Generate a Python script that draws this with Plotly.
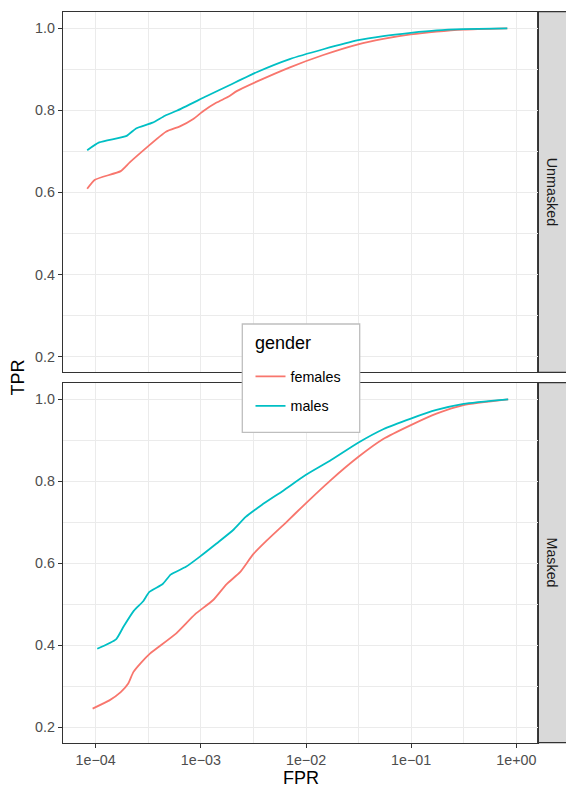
import plotly.graph_objects as go

# ---------------- data ----------------
unmasked_females_fpr = [8.3e-5, 9.84e-5, 1.73e-4, 2.12e-4, 4.66e-4, 6.32e-4, 8.47e-4, 1.05e-3,
                        1.41e-3, 1.82e-3, 2.19e-3, 3.39e-3, 7.03e-3, 1.46e-2, 3.13e-2, 5.42e-2,
                        9.9e-2, 0.174, 0.315, 0.82]
unmasked_females_tpr = [0.609, 0.631, 0.652, 0.674, 0.748, 0.761, 0.779, 0.798, 0.819, 0.833,
                        0.847, 0.870, 0.905, 0.935, 0.961, 0.974, 0.985, 0.992, 0.997, 1.0]

unmasked_males_fpr = [8.3e-5, 1.08e-4, 1.97e-4, 2.42e-4, 3.48e-4, 4.56e-4, 5.89e-4, 1.14e-3,
                      1.89e-3, 3.39e-3, 7.0e-3, 1.46e-2, 3.13e-2, 5.42e-2, 9.9e-2, 0.174,
                      0.315, 0.82]
unmasked_males_tpr = [0.703, 0.722, 0.738, 0.756, 0.770, 0.787, 0.799, 0.835, 0.862, 0.893,
                      0.925, 0.949, 0.971, 0.981, 0.989, 0.995, 0.998, 1.0]

masked_females_fpr = [9.35e-5, 1.35e-4, 1.73e-4, 2.04e-4, 2.28e-4, 2.68e-4, 3.28e-4, 5.68e-4,
                      8.79e-4, 1.31e-3, 1.76e-3, 2.36e-3, 3.15e-3, 4.22e-3, 6.55e-3, 9.4e-3,
                      1.69e-2, 3.13e-2, 5.42e-2, 9.93e-2, 0.174, 0.315, 0.836]
masked_females_tpr = [0.245, 0.265, 0.285, 0.306, 0.334, 0.356, 0.379, 0.426, 0.475, 0.510,
                      0.549, 0.578, 0.622, 0.655, 0.701, 0.740, 0.801, 0.859, 0.903, 0.937,
                      0.965, 0.986, 1.0]

masked_males_fpr = [1.035e-4, 1.56e-4, 1.83e-4, 2.31e-4, 2.83e-4, 3.24e-4, 4.34e-4, 5.16e-4,
                    7.21e-4, 9.79e-4, 1.41e-3, 2.03e-3, 2.67e-3, 3.79e-3, 6.07e-3, 9.91e-3,
                    1.69e-2, 3.13e-2, 5.42e-2, 9.93e-2, 0.174, 0.315, 0.836]
masked_males_tpr = [0.391, 0.414, 0.444, 0.484, 0.507, 0.530, 0.549, 0.572, 0.591, 0.616,
                    0.648, 0.681, 0.713, 0.742, 0.777, 0.815, 0.850, 0.894, 0.927, 0.953,
                    0.974, 0.989, 1.0]

facets = ["Unmasked", "Masked"]
genders = ["females", "males"]
legend_title = "gender"
x_tickvals = [1e-4, 1e-3, 1e-2, 1e-1, 1e0]
x_ticktext = ["1e\u221204", "1e\u221203", "1e\u221202", "1e\u221201", "1e+00"]
y_tickvals = [0.2, 0.4, 0.6, 0.8, 1.0]
y_ticktext = ["0.2", "0.4", "0.6", "0.8", "1.0"]

# ---------------- style ----------------
W, H = 566, 787
COLORS = {"females": "#F8766D", "males": "#00BFC4"}
FONT = "Liberation Sans, Arial, Helvetica, sans-serif"
GRID = "#EBEBEB"
BORDER = "#333333"
SMALL = 14.3
BIG = 18

px_left, px_right = 63.3, 537.7
panels_px = {"Unmasked": (11.7, 372.3), "Masked": (382.7, 742.7)}
legend_box_px = (242.3, 324.0, 359.7, 432.3)  # x0, y0, x1, y1 (pixels from top-left)

def ydom(top, bot):
    return [1 - bot / H, 1 - top / H]

xdom = [px_left / W, px_right / W]

series = {
    ("Unmasked", "females"): (unmasked_females_fpr, unmasked_females_tpr),
    ("Unmasked", "males"): (unmasked_males_fpr, unmasked_males_tpr),
    ("Masked", "females"): (masked_females_fpr, masked_females_tpr),
    ("Masked", "males"): (masked_males_fpr, masked_males_tpr),
}

fig = go.Figure()
for i, facet in enumerate(facets):
    xa = "x" if i == 0 else "x2"
    ya = "y" if i == 0 else "y2"
    for g in genders:
        xs, ys = series[(facet, g)]
        fig.add_trace(go.Scatter(
            x=xs, y=ys, mode="lines", name=g, xaxis=xa, yaxis=ya,
            line=dict(color=COLORS[g], width=1.8, shape="spline", smoothing=0.5),
            legendgroup=g, showlegend=(i == 0),
        ))

minor_x = [10 ** (k + 0.5) for k in range(-5, 1)]
common_x = dict(
    type="log", range=[-4.308, 0.203], domain=xdom,
    tickvals=x_tickvals, ticktext=x_ticktext,
    showgrid=True, gridcolor=GRID, gridwidth=1.4,
    minor=dict(tickvals=minor_x, showgrid=True, gridcolor=GRID, gridwidth=0.8, ticks=""),
    showline=True, linecolor=BORDER, linewidth=1.3, mirror=True,
    zeroline=False,
    tickfont=dict(family=FONT, size=SMALL, color="#4D4D4D"),
)
common_y = dict(
    range=[0.1617, 1.0405],
    tickvals=y_tickvals, ticktext=y_ticktext,
    showgrid=True, gridcolor=GRID, gridwidth=1.4,
    minor=dict(tickvals=[0.3, 0.5, 0.7, 0.9], showgrid=True, gridcolor=GRID, gridwidth=0.8, ticks=""),
    showline=True, linecolor=BORDER, linewidth=1.3, mirror=True,
    zeroline=False, ticks="outside", ticklen=4.4, tickcolor=BORDER, tickwidth=1.3,
    tickfont=dict(family=FONT, size=SMALL, color="#4D4D4D"),
)

fig.update_layout(
    width=W, height=H,
    margin=dict(l=0, r=0, t=0, b=0),
    paper_bgcolor="white", plot_bgcolor="white",
    font=dict(family=FONT, color="black"),
    xaxis=dict(common_x, anchor="y", showticklabels=False, ticks=""),
    xaxis2=dict(common_x, anchor="y2", ticks="outside", ticklen=4.4, tickcolor=BORDER, tickwidth=1.3),
    yaxis=dict(common_y, anchor="x", domain=ydom(*panels_px["Unmasked"])),
    yaxis2=dict(common_y, anchor="x2", domain=ydom(*panels_px["Masked"])),
    legend=dict(
        x=250.5 / W, y=1 - 360.5 / H, xanchor="left", yanchor="top",
        bgcolor="rgba(0,0,0,0)", borderwidth=0,
        font=dict(family=FONT, size=SMALL, color="black"),
        tracegroupgap=8, itemwidth=30,
    ),
    showlegend=True,
)

shapes = []
annotations = []

# legend background box and title
lx0, ly0, lx1, ly1 = legend_box_px
shapes.append(dict(type="rect", xref="paper", yref="paper", layer="above",
                   x0=lx0 / W, x1=lx1 / W, y0=1 - ly1 / H, y1=1 - ly0 / H,
                   fillcolor="white", line=dict(color="#BEBEBE", width=1.3)))
annotations.append(dict(text=legend_title, xref="paper", yref="paper",
                        x=253.3 / W, y=1 - 343 / H, showarrow=False,
                        font=dict(family=FONT, size=BIG, color="black"),
                        xanchor="left", yanchor="middle"))

# facet strips
for facet in facets:
    top, bot = panels_px[facet]
    d = ydom(top, bot)
    shapes.append(dict(type="rect", xref="paper", yref="paper",
                       x0=px_right / W, x1=1.02, y0=d[0], y1=d[1],
                       fillcolor="#D9D9D9", line=dict(color=BORDER, width=1.3), layer="below"))
    annotations.append(dict(text=facet, xref="paper", yref="paper",
                            x=(px_right + 14.5) / W, y=(d[0] + d[1]) / 2,
                            showarrow=False, textangle=90,
                            font=dict(family=FONT, size=SMALL, color="#1A1A1A"),
                            xanchor="center", yanchor="middle"))

# axis titles
annotations.append(dict(text="FPR", xref="paper", yref="paper",
                        x=(px_left + px_right) / 2 / W, y=1 - 778 / H,
                        showarrow=False, font=dict(family=FONT, size=BIG, color="black"),
                        xanchor="center", yanchor="middle"))
annotations.append(dict(text="TPR", xref="paper", yref="paper",
                        x=18.3 / W, y=1 - 377.2 / H, textangle=-90,
                        showarrow=False, font=dict(family=FONT, size=BIG, color="black"),
                        xanchor="center", yanchor="middle"))

fig.update_layout(shapes=shapes, annotations=annotations)
fig.write_html("out.html")
